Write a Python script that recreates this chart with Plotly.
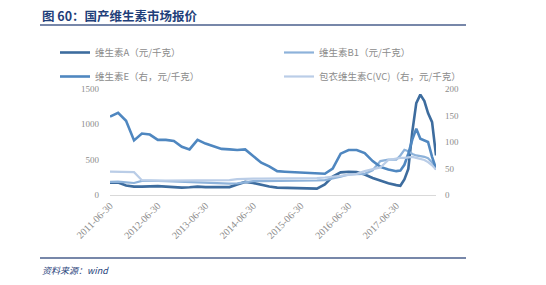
import pandas as pd
import plotly.graph_objects as go

dates = list(pd.date_range("2011-06-30", "2017-06-30", freq="2ME").strftime("%Y-%m-%d")) + \
        list(pd.date_range("2017-07-31", "2018-04-30", freq="ME").strftime("%Y-%m-%d"))

va = [175, 178, 135, 118, 118, 122, 125, 118, 112, 105, 110, 118, 112, 110, 108, 112,
      150, 185, 170, 140, 120, 105, 100, 98, 95, 92, 90, 150, 260, 320, 330, 325,
      290, 240, 200, 165, 140, 130, 220, 370, 900, 1300, 1420, 1330, 1160, 1030, 560]
vb1 = [185, 190, 180, 170, 200, 205, 200, 195, 190, 185, 180, 185, 180, 175, 170, 160,
       165, 185, 195, 195, 195, 195, 195, 200, 200, 200, 205, 210, 230, 260, 290, 300,
       300, 350, 480, 500, 500, 560, 640, 620, 580, 560, 550, 540, 520, 460, 360]
ve = [148, 155, 140, 103, 116, 114, 104, 104, 102, 91, 86, 104, 97, 92, 87, 86,
      85, 86, 74, 61, 54, 45, 44, 43, 42, 41, 40, 40, 50, 78, 85, 85,
      79, 64, 53, 48, 45, 46, 57, 78, 105, 125, 106, 103, 100, 72, 50]
vc = [44, 44, 44, 43, 28, 27, 27, 27, 27, 27, 27, 27, 27, 27, 27, 28,
      30, 31, 31, 31, 31, 31, 31, 31, 31, 31, 32, 33, 34, 36, 38, 40,
      45, 48, 52, 66, 69, 70, 70, 71, 72, 70, 68, 66, 62, 56, 48]

names = ["维生素A（元/千克）", "维生素B1（元/千克）", "维生素E（右，元/千克）", "包衣维生素C(VC)（右，元/千克）"]
tick_dates = ["2011-06-30", "2012-06-30", "2013-06-30", "2014-06-30", "2015-06-30", "2016-06-30", "2017-06-30"]
left_ticks = [0, 500, 1000, 1500]
right_ticks = [0, 50, 100, 150, 200]

W, H = 546, 285
L, R, T, B = 110, 436, 89, 195

def px(x):
    return (x - L) / (R - L)

def py(y):
    return (B - y) / (B - T)

fig = go.Figure()
fig.add_trace(go.Scatter(x=dates, y=va, name=names[0], mode="lines", legend="legend",
                         legendgroup="a", line=dict(color="#3D6C9E", width=2.6)))
fig.add_trace(go.Scatter(x=dates, y=vb1, name=names[1], mode="lines", legend="legend2",
                         legendgroup="b", line=dict(color="#8DB2DA", width=2.2)))
fig.add_trace(go.Scatter(x=dates, y=ve, name=names[2], mode="lines", yaxis="y2", legend="legend",
                         legendgroup="e", line=dict(color="#4F87C0", width=2.6)))
fig.add_trace(go.Scatter(x=dates, y=vc, name=names[3], mode="lines", yaxis="y2", legend="legend2",
                         legendgroup="c", line=dict(color="#BACDE7", width=2.2)))

tickfont = dict(family="Liberation Serif, Noto Sans CJK SC", size=9, color="#8C8C8C")
xtickfont = dict(family="Liberation Serif, Noto Sans CJK SC", size=10, color="#8C8C8C")
legfont = dict(family="Noto Sans CJK SC", size=9.5, color="#8C8C8C")

fig.update_layout(
    width=W, height=H,
    margin=dict(l=L, r=W - R, t=T, b=H - B, pad=0),
    paper_bgcolor="white", plot_bgcolor="white",
    showlegend=True,
    legend=dict(orientation="v", x=px(55), y=py(38), xanchor="left", yanchor="top",
                itemwidth=30, font=legfont, tracegroupgap=5, bgcolor="rgba(0,0,0,0)"),
    legend2=dict(orientation="v", x=px(279), y=py(38), xanchor="left", yanchor="top",
                 itemwidth=30, font=legfont, tracegroupgap=5, bgcolor="rgba(0,0,0,0)"),
    xaxis=dict(type="date", range=["2011-06-30", "2018-04-30"],
               tickvals=tick_dates, ticktext=tick_dates, tickangle=-45,
               tickfont=xtickfont, showgrid=False, zeroline=False,
               showline=True, linecolor="#D9D9D9", linewidth=1, ticks=""),
    yaxis=dict(range=[0, 1500], tickvals=left_ticks, tickfont=tickfont, ticklabelstandoff=10,
               showgrid=False, zeroline=False, showline=False, ticks=""),
    yaxis2=dict(range=[0, 200], tickvals=right_ticks, tickfont=tickfont, overlaying="y",
                ticklabelstandoff=8,
                side="right", showgrid=False, zeroline=False, showline=False, ticks=""),
    annotations=[
        dict(text="<b>图 60：国产维生素市场报价</b>", xref="paper", yref="paper",
             x=px(40), y=py(15), xanchor="left", yanchor="middle", showarrow=False,
             font=dict(family="Noto Sans CJK SC", size=12.5, color="#1F3F7A")),
        dict(text="<i>资料来源：wind</i>", xref="paper", yref="paper",
             x=px(40), y=py(270), xanchor="left", yanchor="middle", showarrow=False,
             font=dict(family="Noto Sans CJK SC, Liberation Sans", size=9, color="#1F3F7A")),
    ],
    shapes=[
        dict(type="line", xref="paper", yref="paper", x0=px(40), x1=px(466), y0=py(25), y1=py(25),
             line=dict(color="#4A5F8C", width=1.5)),
        dict(type="line", xref="paper", yref="paper", x0=px(40), x1=px(466), y0=py(258), y1=py(258),
             line=dict(color="#4A5F8C", width=1.5)),
    ],
)

fig.write_html("out.html")
